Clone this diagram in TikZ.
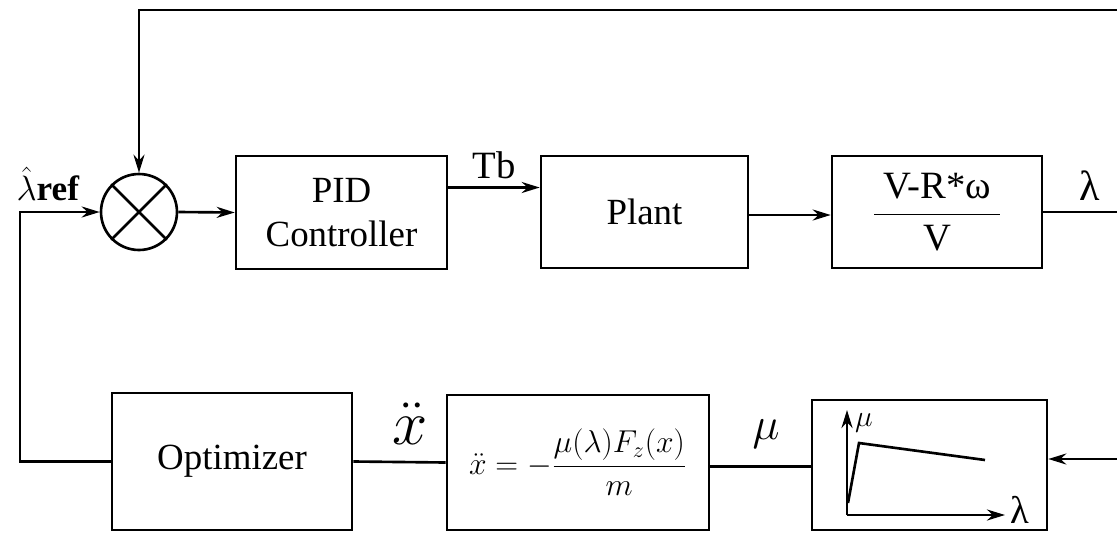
\documentclass[tikz,border=0pt]{standalone}
\usepackage{fix-cm}
\usepackage{amsmath}
\usepackage{fontspec}
\setmainfont{Liberation Serif}
\usetikzlibrary{arrows.meta, calc}

\begin{document}
\begin{tikzpicture}[
    >={Stealth[length=0.36cm, width=0.22cm]},
    x=0.02cm, y=-0.02cm, % pixel-like grid, y pointing down
    line width=1.5pt,
    block/.style={draw, rectangle, align=center, inner sep=0pt, font=\fontsize{21}{25.5}\selectfont},
    sumjunction/.style={draw, circle, minimum size=1.52cm, inner sep=0pt},
    sig/.style={font=\fontsize{22}{26}\selectfont, inner sep=1pt}
]

    % === FRAME ===
    \useasboundingbox (0,0) rectangle (1117,535);

    % === 1. FORWARD PATH (top row) ===
    \node[sumjunction] (sum) at (139,212) {};
    \draw (sum.north west) -- (sum.south east);
    \draw (sum.north east) -- (sum.south west);

    \node[block, minimum width=4.22cm, minimum height=2.26cm] (pid) at (341.5,212.5) {PID\\Controller};
    \node[block, minimum width=4.14cm, minimum height=2.24cm] (plant) at (644.5,212) {Plant};
    \node[block, minimum width=4.2cm, minimum height=2.24cm, font=\fontsize{22}{26}\selectfont] (slip) at (937,212)
        {$\dfrac{\hspace{0.18cm}\text{V-R*ω}\hspace{0.18cm}}{\text{V}}$};

    % === 2. ESTIMATION PATH (bottom row) ===
    \node[block, minimum width=4.8cm, minimum height=2.74cm] (opt) at (232,461.5) {Optimizer};
    \node[block, minimum width=5.24cm, minimum height=2.7cm, font=\fontsize{18}{22}\selectfont] (eom) at (578,462.5)
        {$\ddot{x}=-\dfrac{\mu(\lambda)F_z(x)}{m}$};
    \node[block, minimum width=4.7cm, minimum height=2.6cm] (curve) at (929.5,465) {};

    % Friction curve sketch inside the block
    \coordinate (orig) at (847,515);
    \draw[->] (orig) -- (847,410) coordinate (muTop);
    \draw[->] (orig) -- (1005,515) coordinate (lamEnd);
    \draw (848,503) -- (859,443) -- (985,460);
    \node[font=\fontsize{17}{20}\selectfont, anchor=west, inner sep=1pt] (muAx) at ([xshift=0.1cm, yshift=-0.25cm]muTop) {$\mu$};
    \node[sig, anchor=west] (lamAx) at ([xshift=0.05cm, yshift=0.1cm]lamEnd) {λ};

    % === 3. CONNECTORS ===
    \coordinate (topR) at (1117,10);
    \coordinate (topL) at (sum.north |- topR);
    \coordinate (inL) at (20,212);
    \coordinate (lamR) at (1117,212);
    \coordinate (backR) at (1117,459);

    \draw[->] (topR) -- (topL) -- (sum.north);
    \draw[->] (opt.west) -| (inL) -- (sum.west);
    \draw[->] (sum.east) -- (pid.west);
    \draw[->] ([yshift=0.5cm]pid.east) -- ([yshift=0.5cm]pid.east -| plant.west);
    \draw[->] ([yshift=-0.06cm]plant.east) -- ([yshift=-0.06cm]plant.east -| slip.west);
    \draw (slip.east) -- (lamR);
    \draw (opt.east) -- (eom.west);
    \draw ([yshift=-0.08cm]eom.east) -- ([yshift=-0.08cm]eom.east -| curve.west);
    \draw[->] (backR) -- (backR -| curve.east);

    % === 4. SIGNAL LABELS ===
    \node[sig, font=\fontsize{20}{24}\selectfont] (lref) at (48,184) {$\hat{\lambda}$\textbf{ref}};
    \node[sig] (tb) at (494,165) {Tb};
    \node[sig, font=\fontsize{24}{28}\selectfont] (lamOut) at (1090,186) {λ};
    \node[sig, font=\fontsize{36}{40}\selectfont] (xdd) at (410,424) {$\ddot{x}$};
    \node[sig, font=\fontsize{26}{30}\selectfont] (muSig) at (766,434) {$\mu$};

\end{tikzpicture}
\end{document}
